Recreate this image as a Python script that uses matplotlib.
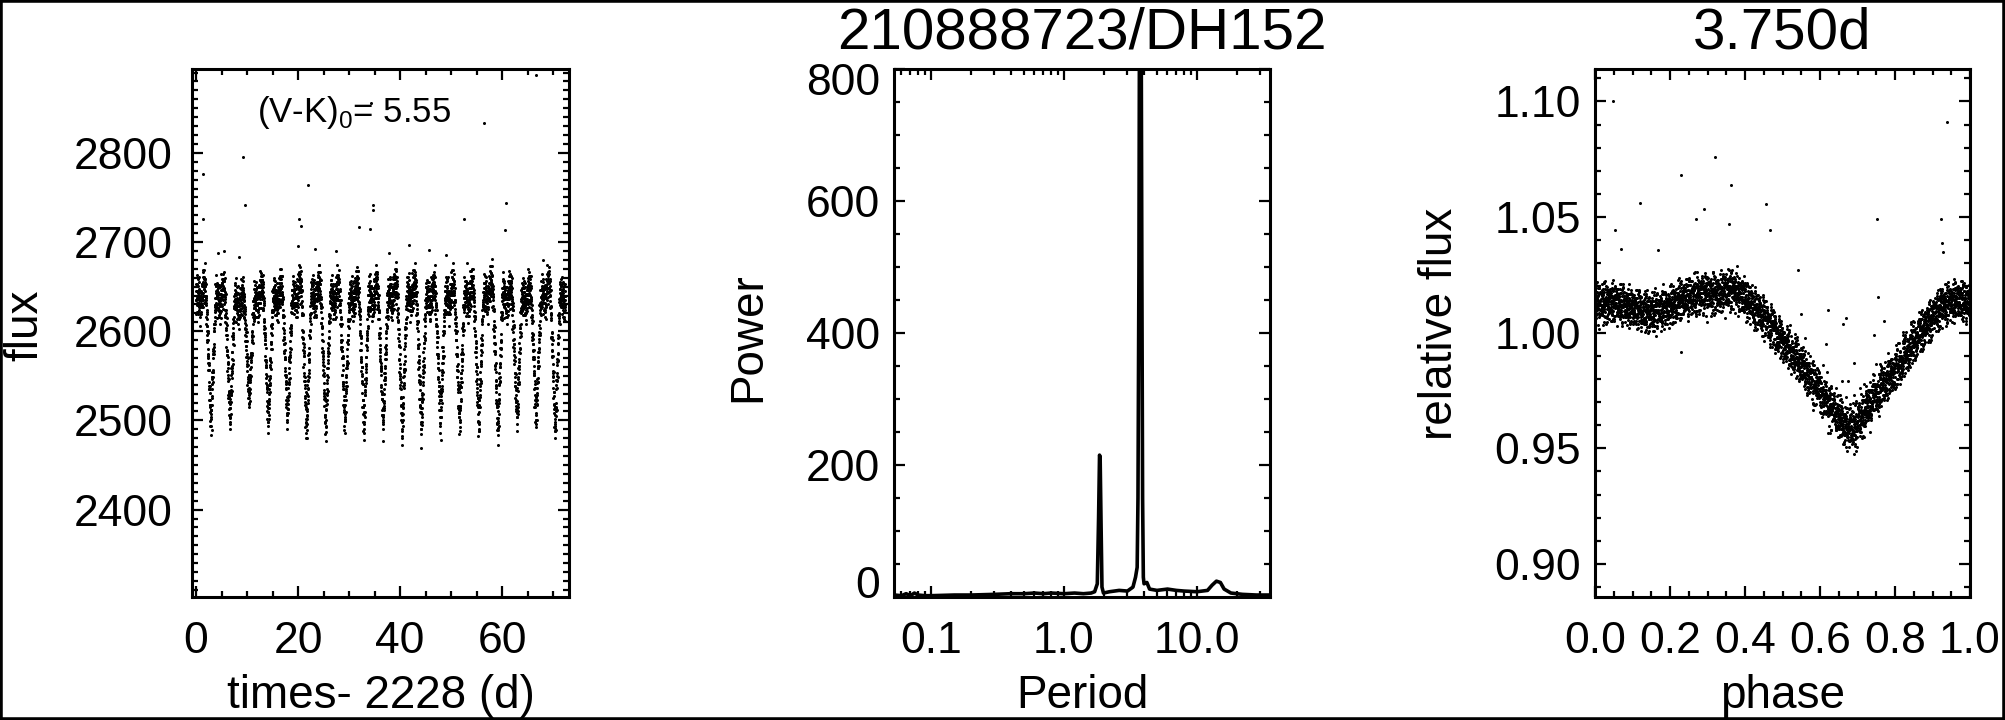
import numpy as np
import matplotlib
matplotlib.use('Agg')
import matplotlib.pyplot as plt
from matplotlib.ticker import MultipleLocator, FixedLocator, FixedFormatter, LogLocator, NullFormatter
from matplotlib.transforms import ScaledTranslation
from matplotlib.patches import Rectangle

plt.rcParams['font.family'] = ['Liberation Sans', 'DejaVu Sans']
plt.rcParams['mathtext.fontset'] = 'custom'
plt.rcParams['mathtext.rm'] = 'Liberation Sans'

# --- light curve (K2 long cadence) ---
cadence = 0.02043
t_start, t_stop = 0.0, 72.4
period = 3.75
t_zero = 0.33
norm_flux = 2606.0

# phased shape, 50 bins of 0.02 in phase
fold_bins = [1.013, 1.013, 1.013, 1.012, 1.011, 1.010, 1.009, 1.009, 1.010, 1.011,
             1.012, 1.014, 1.015, 1.016, 1.017, 1.017, 1.017, 1.018, 1.018, 1.016,
             1.013, 1.010, 1.007, 1.003, 0.998, 0.994, 0.990, 0.986, 0.981, 0.977,
             0.972, 0.968, 0.964, 0.960, 0.959, 0.964, 0.969, 0.974, 0.978, 0.982,
             0.986, 0.991, 0.996, 1.001, 1.005, 1.009, 1.012, 1.013, 1.014, 1.013]

# dip depth of each cycle (cycle -1 .. 19), from the dip minima in the left panel
cycle_depth = [1.0, 1.0, 0.96, 0.75, 0.98, 0.96, 1.08, 1.06, 1.0, 1.03, 1.01,
               1.08, 1.06, 1.0, 1.01, 1.03, 1.1, 0.96, 0.96, 1.08, 1.0]

# scatter about the mean curve (relative flux)
resid = [0.002, -0.004, 0.006, -0.001, 0.003, -0.006, 0.000, 0.004, -0.003, 0.008,
         -0.002, 0.001, -0.005, 0.005, -0.008, 0.002, 0.000, -0.003, 0.007, -0.001,
         0.004, -0.004, 0.001, -0.007, 0.003, 0.000, -0.002, 0.006, -0.005, 0.002,
         0.009, -0.001, -0.003, 0.004, 0.001, -0.006, 0.003, -0.002, 0.005, 0.000,
         -0.004, 0.002, -0.009, 0.001, 0.006, -0.003, 0.003, -0.001, 0.004, -0.005,
         0.000, 0.002, -0.002]

# outliers in the light curve
lc_out_t = [1.3, 1.3, 9.1, 9.6, 20.1, 20.6, 22.0, 34.2, 34.6, 34.6, 34.1, 31.9, 52.6,
            56.4, 60.8, 66.6, 60.5, 20.0, 8.35, 23.3, 27.5, 41.7, 45.6, 48.9, 53.2,
            37.8, 5.5, 4.2, 68.1]
lc_out_f = [2776, 2726, 2795, 2741, 2726, 2718, 2764, 2856, 2741, 2736, 2715, 2717, 2726,
            2834, 2744, 2887, 2714, 2696, 2683, 2692, 2690, 2697, 2691, 2685, 2676,
            2688, 2690, 2688, 2680]

# outliers in the folded curve
fold_out_ph = [0.048, 0.938, 0.319, 0.229, 0.362, 0.12, 0.455, 0.053, 0.753, 0.923,
               0.542, 0.29, 0.27, 0.466, 0.356, 0.168, 0.07, 0.925, 0.928, 0.755,
               0.77, 0.662, 0.67, 0.62, 0.548, 0.616, 0.569, 0.69, 0.744, 0.229, 0.819]
fold_out_rel = [1.100, 1.091, 1.076, 1.068, 1.064, 1.056, 1.0555, 1.0445, 1.049, 1.049,
                1.027, 1.0535, 1.049, 1.0445, 1.047, 1.0356, 1.036, 1.0386, 1.035, 1.0156,
                1.005, 1.0037, 1.0063, 1.010, 1.008, 0.995, 0.991, 0.987, 0.999, 0.9917, 0.989]

# --- periodogram ---
per_period = [0.053, 0.06, 0.065, 0.07, 0.075, 0.08, 0.09, 0.1, 0.15, 0.2, 0.3, 0.4, 0.5,
              0.6, 0.7, 0.8, 1.0, 1.2, 1.4, 1.6, 1.7, 1.78, 1.82, 1.85, 1.87, 1.90, 1.93,
              1.98, 2.2, 2.6, 3.0, 3.3, 3.45, 3.55, 3.60, 3.66, 3.69, 3.81, 3.85, 3.90,
              3.95, 4.0, 4.2, 4.4, 5.0, 6.0, 7.0, 8.0, 10.0, 12.0, 13.0, 14.0, 15.0,
              16.0, 18.0, 22.0, 28.0, 35.4]
per_power = [3, 2, 5, 2, 6, 3, 2, 2, 3, 3, 4, 5, 5,
             6, 5, 6, 5, 6, 5, 6, 8, 20, 120, 215, 212, 110, 15,
             6, 8, 10, 9, 15, 30, 45, 150, 500, 830, 830, 500, 150,
             30, 20, 22, 12, 10, 12, 10, 9, 8, 10, 18, 24, 22,
             12, 6, 4, 3, 3]

# build light curve and its folded version
times = np.arange(t_start, t_stop, cadence)
cyc = np.floor((times - t_zero) / period).astype(int)
phase = ((times - t_zero) / period) % 1.0
bin_idx = np.minimum((phase / 0.02).astype(int), len(fold_bins) - 1)
depth = np.array(cycle_depth)[cyc + 1]
res = np.array(resid)[np.arange(len(times)) % len(resid)]
rel = 1.0 + (np.array(fold_bins)[bin_idx] - 1.0) * depth + res
flux = rel * norm_flux

W, H = 2005, 720
fig = plt.figure(figsize=(W / 100, H / 100), dpi=100)


def box(l, r, t=69, b=597):
    return [l / W, 1 - b / H, (r - l) / W, (b - t) / H]


ax1 = fig.add_axes(box(192, 569))
ax2 = fig.add_axes(box(894, 1270))
ax3 = fig.add_axes(box(1595, 1970))

FS = 32
MS = 2.2


def style(ax, xpad, ypad):
    ax.tick_params(which='both', direction='in', top=True, right=True,
                   width=1.6, labelsize=FS, colors='black')
    ax.tick_params(which='major', length=8)
    ax.tick_params(which='minor', length=4)
    ax.tick_params(axis='x', which='both', pad=xpad)
    ax.tick_params(axis='y', which='both', pad=ypad)
    for s in ax.spines.values():
        s.set_linewidth(2.2)


# left panel: light curve
ax1.plot(times, flux, 'o', color='black', ms=MS, mew=0)
ax1.plot(lc_out_t, lc_out_f, 'o', color='black', ms=MS, mew=0)
ax1.set_xlim(-0.8, 73.1)
ax1.set_ylim(2302, 2894)
ax1.xaxis.set_major_locator(MultipleLocator(20))
ax1.xaxis.set_minor_locator(MultipleLocator(5))
ax1.yaxis.set_major_locator(MultipleLocator(100))
ax1.yaxis.set_minor_locator(MultipleLocator(10))
style(ax1, 17, 14)
ax1.text(12, 2845, r'(V-K)$_\mathrm{0}$= 5.55', fontsize=25, va='center', ha='left')
ax1.set_ylabel('flux', fontsize=33, va='center')
ax1.yaxis.set_label_coords(-0.443, 0.515)
ax1.set_xlabel('times- 2228 (d)', fontsize=33, va='baseline')
ax1.xaxis.set_label_coords(0.5, -0.21)

# middle panel: periodogram
ax2.plot(per_period, per_power, color='black', lw=2.6)
ax2.set_xscale('log')
ax2.set_xlim(0.0527, 35.4)
ax2.set_ylim(0, 800)
ax2.xaxis.set_major_locator(FixedLocator([0.1, 1.0, 10.0]))
ax2.xaxis.set_major_formatter(FixedFormatter(['0.1', '1.0', '10.0']))
ax2.xaxis.set_minor_locator(LogLocator(base=10, subs=np.arange(2, 10)))
ax2.xaxis.set_minor_formatter(NullFormatter())
ax2.yaxis.set_major_locator(FixedLocator([0, 200, 400, 600, 800]))
ax2.yaxis.set_minor_locator(MultipleLocator(50))
style(ax2, 17, 10)
yt = ax2.yaxis.get_major_ticks()
for tk, dy in ((yt[0], 15), (yt[-1], -10)):
    tk.label1.set_transform(tk.label1.get_transform()
                            + ScaledTranslation(0, dy / 100, fig.dpi_scale_trans))
ax2.set_title('210888723/DH152', fontsize=42, pad=15)
ax2.set_ylabel('Power', fontsize=33, va='center')
ax2.yaxis.set_label_coords(-0.388, 0.492)
ax2.set_xlabel('Period', fontsize=33, va='baseline')
ax2.xaxis.set_label_coords(0.5, -0.21)

# right panel: folded light curve
ax3.plot(phase, rel, 'o', color='black', ms=MS, mew=0)
ax3.plot(fold_out_ph, fold_out_rel, 'o', color='black', ms=MS, mew=0)
ax3.set_xlim(0, 1)
ax3.set_ylim(0.8857, 1.114)
ax3.xaxis.set_major_locator(MultipleLocator(0.2))
ax3.xaxis.set_major_formatter(plt.FormatStrFormatter('%.1f'))
ax3.xaxis.set_minor_locator(MultipleLocator(0.05))
ax3.yaxis.set_major_locator(MultipleLocator(0.05))
ax3.yaxis.set_major_formatter(plt.FormatStrFormatter('%.2f'))
ax3.yaxis.set_minor_locator(MultipleLocator(0.01))
style(ax3, 17, 10)
ax3.set_title('3.750d', fontsize=42, pad=15)
ax3.set_ylabel('relative flux', fontsize=33, va='center')
ax3.yaxis.set_label_coords(-0.413, 0.518)
ax3.set_xlabel('phase', fontsize=33, va='baseline')
ax3.xaxis.set_label_coords(0.5, -0.21)

fig.add_artist(Rectangle((0, 0), 1, 1, transform=fig.transFigure,
                         fill=False, lw=4, ec='black'))

fig.savefig('out.png', dpi=100)
